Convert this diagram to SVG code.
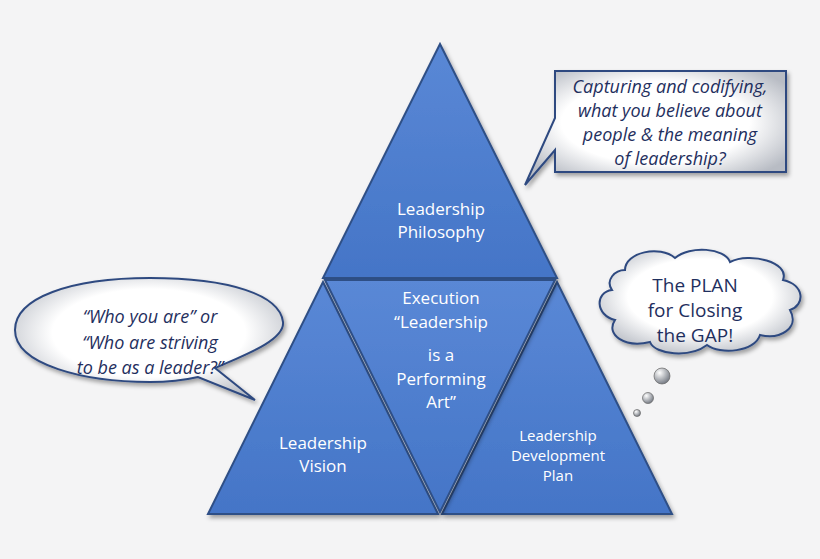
<svg xmlns="http://www.w3.org/2000/svg" width="820" height="559" viewBox="0 0 820 559">
<defs>
<linearGradient id="bg" x1="0" y1="0" x2="0" y2="1"><stop offset="0" stop-color="#5a88d6"/><stop offset="1" stop-color="#4475c7"/></linearGradient>
<radialGradient id="bub" cx="0.5" cy="0.45" r="0.6"><stop offset="0.6" stop-color="#ffffff"/><stop offset="1" stop-color="#b8bcc4"/></radialGradient>
<radialGradient id="ball" cx="0.35" cy="0.3" r="0.7"><stop offset="0" stop-color="#fff"/><stop offset="1" stop-color="#7a7f88"/></radialGradient>
<filter id="sh" x="-10%" y="-10%" width="130%" height="130%"><feDropShadow dx="2" dy="3" stdDeviation="2" flood-color="#000" flood-opacity="0.35"/></filter>
</defs>
<style>
.tri{fill:url(#bg);stroke:#2f4f86;stroke-width:2;filter:url(#sh)}
.w{font-family:"Open Sans","Liberation Sans",sans-serif;fill:#fff;text-anchor:middle}
.call{fill:url(#bub);stroke:#2e4a80;stroke-width:2;filter:url(#sh)}
.d{font-family:"Open Sans","Liberation Sans",sans-serif;fill:#1f2f5e;text-anchor:middle;font-style:italic;font-size:18px}
.n{font-family:"Open Sans","Liberation Sans",sans-serif;fill:#1f2f5e;text-anchor:middle;font-size:19px}
</style>
<rect width="820" height="559" fill="#f4f4f5"/>
<g id="top"><polygon class="tri" points="440,44 557,278 323,278"/>
<text class="w" font-size="17"><tspan x="441" y="215">Leadership</tspan><tspan x="441" y="238">Philosophy</tspan></text></g>
<g id="left"><polygon class="tri" points="323,282 438,514 208,514"/>
<text class="w" font-size="17"><tspan x="323" y="449">Leadership</tspan><tspan x="323" y="472">Vision</tspan></text></g>
<g id="right"><polygon class="tri" points="557,282 672,514 442,514"/>
<text class="w" font-size="15"><tspan x="558" y="441">Leadership</tspan><tspan x="558" y="461">Development</tspan><tspan x="558" y="481">Plan</tspan></text></g>
<g id="mid"><polygon class="tri" points="325,280 555,280 440,512"/>
<text class="w" font-size="17"><tspan x="441" y="304">Execution</tspan><tspan x="441" y="328">“Leadership</tspan><tspan x="441" y="361">is a</tspan><tspan x="441" y="385">Performing</tspan><tspan x="441" y="408">Art”</tspan></text></g>
<g id="callout-box"><path class="call" d="M555,71 H786 V172 H555 V150 L525,185 L555,118 Z"/>
<text class="d"><tspan x="670" y="93">Capturing and codifying,</tspan><tspan x="670" y="117">what you believe about</tspan><tspan x="670" y="141">people &amp; the meaning</tspan><tspan x="670" y="165">of leadership?</tspan></text></g>
<g id="callout-oval"><path class="call" d="M215,368 C245,355 285,340 283,322 C280,295 230,278 150,278 C70,278 15,298 15,330 C15,365 85,382 150,382 C170,382 185,380 198,377 L255,400 Z"/>
<text class="d"><tspan x="150" y="323">“Who you are” or</tspan><tspan x="150" y="349">“Who are striving</tspan><tspan x="150" y="374">to be as a  leader?”</tspan></text></g>
<g id="cloud"><path class="call" d="M625,270 C625,252 660,245 675,258 C690,245 725,248 730,262 C750,252 790,262 783,280 C805,285 805,305 790,310 C800,328 780,340 760,335 C755,352 720,355 707,345 C690,358 655,355 650,342 C625,348 605,335 615,320 C595,315 595,292 612,290 C605,280 615,270 625,270 Z"/>
<text class="n"><tspan x="695" y="292">The PLAN</tspan><tspan x="695" y="317">for Closing</tspan><tspan x="695" y="342">the GAP!</tspan></text>
<circle cx="662" cy="376" r="8" fill="url(#ball)" stroke="#666" stroke-width="0.7"/>
<circle cx="648" cy="398" r="5.5" fill="url(#ball)" stroke="#666" stroke-width="0.7"/>
<circle cx="637" cy="413" r="3.5" fill="url(#ball)" stroke="#666" stroke-width="0.7"/></g>
<g id="connectors"/>
</svg>
